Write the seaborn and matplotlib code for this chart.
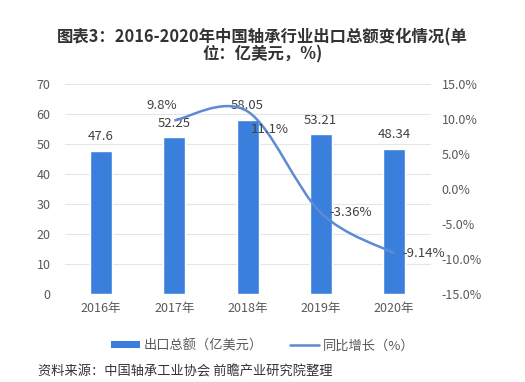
import matplotlib
matplotlib.use("Agg")
import matplotlib.pyplot as plt
from matplotlib.path import Path
from matplotlib.patches import PathPatch, Patch
from matplotlib.lines import Line2D
import seaborn as sns
import pandas as pd
import numpy as np

years = ["2016年", "2017年", "2018年", "2019年", "2020年"]
export_total = [47.6, 52.25, 58.05, 53.21, 48.34]
growth_years = ["2017年", "2018年", "2019年", "2020年"]
growth = [9.8, 11.1, -3.36, -9.14]
growth_labels = ["9.8%", "11.1%", "-3.36%", "-9.14%"]
left_ticks = [0, 10, 20, 30, 40, 50, 60, 70]
right_ticks = [-15, -10, -5, 0, 5, 10, 15]

sns.set_theme(style="white")
plt.rcParams['font.family'] = ['Noto Sans CJK SC', 'DejaVu Sans']

bar_color = "#3b7fdc"
line_color = "#5b8bd0"
txt = "#404040"
tick_c = "#595959"

fig = plt.figure(figsize=(5.25, 3.82), dpi=100)
ax = fig.add_axes([0.123, 0.230, 0.697, 0.550])

df = pd.DataFrame({"year": years, "value": export_total})
sns.barplot(data=df, x="year", y="value", color=bar_color, width=0.3,
            saturation=1, ax=ax)
ax.set_xlim(-0.5, 4.5)
ax.set_ylim(0, 70)
ax.set_yticks(left_ticks)
ax.set_xlabel("")
ax.set_ylabel("")
ax.grid(axis="y", color="#e6e6e6", linewidth=0.8)
ax.set_axisbelow(True)
for s in ax.spines.values():
    s.set_visible(False)
ax.tick_params(axis="both", length=0, labelsize=9, labelcolor=tick_c)
ax.tick_params(axis="x", pad=6)
ax.tick_params(axis="y", pad=10)

for i, v in enumerate(export_total):
    ax.text(i, v + 2.6, f"{v:g}", ha="center", va="bottom", fontsize=9.5, color=txt)

ax2 = ax.twinx()
ax2.set_ylim(-15, 15)
ax2.set_yticks(right_ticks)
ax2.set_yticklabels([f"{t:.1f}%" for t in right_ticks])
for s in ax2.spines.values():
    s.set_visible(False)
ax2.tick_params(axis="y", length=0, labelsize=9, labelcolor=tick_c, pad=8)

# smooth curve through the growth points (Catmull-Rom rendered as Bezier)
xs = np.array([years.index(y) for y in growth_years], dtype=float)
ys = np.array(growth, dtype=float)
pts = np.column_stack([xs, ys])
verts = [pts[0]]
codes = [Path.MOVETO]
n = len(pts)
for i in range(n - 1):
    p0 = pts[i - 1] if i > 0 else pts[i]
    p1 = pts[i]
    p2 = pts[i + 1]
    p3 = pts[i + 2] if i + 2 < n else pts[i + 1]
    c1 = p1 + (p2 - p0) / 6.0
    c2 = p2 - (p3 - p1) / 6.0
    verts += [c1, c2, p2]
    codes += [Path.CURVE4] * 3
ax2.add_patch(PathPatch(Path(verts, codes), facecolor="none",
                        edgecolor=line_color, linewidth=1.8))

offsets = [(-9, 11), (16, -13), (6, 0), (6, 0)]
has = ["center", "center", "left", "left"]
for (x, y, lab, off, ha) in zip(xs, ys, growth_labels, offsets, has):
    ax2.annotate(lab, (x, y), xytext=off, textcoords="offset points",
                 ha=ha, va="center", fontsize=9.5, color=txt)

fig.text(0.5, 0.88, "图表3：2016-2020年中国轴承行业出口总额变化情况(单\n位：亿美元，%)",
         ha="center", va="center", fontsize=11.8, fontweight="bold",
         color="#333333", linespacing=0.95)

handles = [Patch(facecolor=bar_color, edgecolor="none"),
           Line2D([0], [0], color=line_color, linewidth=1.8)]
fig.legend(handles, ["出口总额（亿美元）", "同比增长（%）"], loc="center",
           bbox_to_anchor=(0.5, 0.095), ncol=2, frameon=False, fontsize=9.5,
           labelcolor=tick_c, handlelength=2.2, handleheight=0.5,
           columnspacing=2.0, handletextpad=0.3)

fig.text(0.073, 0.027, "资料来源：中国轴承工业协会 前瞻产业研究院整理",
         ha="left", va="center", fontsize=9.5, color="#333333")

fig.savefig("out.png", dpi=100)
